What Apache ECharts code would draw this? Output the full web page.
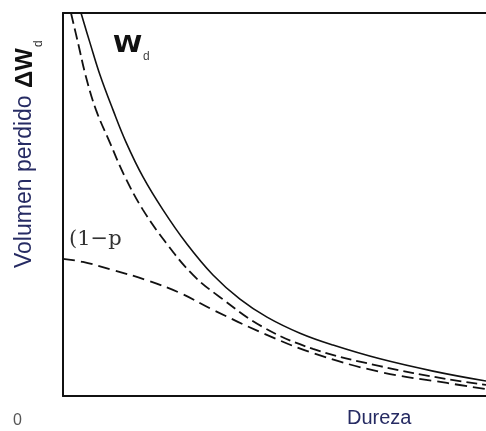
<!DOCTYPE html>
<html>
<head>
<meta charset="utf-8">
<script src="https://cdn.jsdelivr.net/npm/echarts@6/dist/echarts.min.js"></script>
<style>
html, body { margin: 0; padding: 0; background: #fff; }
#chart { width: 486px; height: 431px; }
</style>
</head>
<body>
<div id="chart"></div>
<script>
// curves, x = dureza (0-100), y = volumen perdido (0-100)
var wdTotal = [[4.26,100],[6.38,92.2],[8.75,83.8],[11.82,74.7],[14.89,66.3],[18.91,57.2],[23.64,48.6],[29.08,40.0],[35.46,31.6],[41.84,25.3],[48.23,20.6],[56.03,16.4],[63.83,13.3],[74.94,9.7],[87.47,6.5],[100,3.9]];
var wdUpper = [[1.89,100],[3.55,92.2],[5.44,83.3],[7.8,74.7],[11.11,66.1],[14.66,57.2],[18.91,48.6],[24.35,40.0],[30.73,31.6],[37.12,25.8],[47.28,18.0],[59.1,12.3],[74.94,7.8],[90.78,4.4],[100,2.9]];
var wdLower = [[0,35.8],[4.73,35.0],[11.82,32.9],[19.62,30.3],[27.66,26.9],[35.46,22.5],[47.28,16.4],[59.1,11.2],[74.94,6.3],[90.78,3.4],[100,1.8]];

var navy = '#262b63';
var chart = echarts.init(document.getElementById('chart'));

var option = {
    animation: false,
    grid: { left: 63, right: 0, top: 13, bottom: 35 },
    xAxis: [
        {
            type: 'value', min: 0, max: 100,
            axisLine: { show: true, lineStyle: { color: '#111', width: 2 } },
            axisTick: { show: false }, axisLabel: { show: false }, splitLine: { show: false }
        },
        {
            type: 'value', min: 0, max: 100, position: 'top',
            axisLine: { show: true, lineStyle: { color: '#111', width: 2 } },
            axisTick: { show: false }, axisLabel: { show: false }, splitLine: { show: false }
        }
    ],
    yAxis: {
        type: 'value', min: 0, max: 100,
        axisLine: { show: true, lineStyle: { color: '#111', width: 2 } },
        axisTick: { show: false }, axisLabel: { show: false }, splitLine: { show: false }
    },
    series: [
        {
            type: 'line', data: wdTotal, smooth: 0.4, symbol: 'none',
            lineStyle: { color: '#111', width: 1.6 }
        },
        {
            type: 'line', data: wdUpper, smooth: 0.4, symbol: 'none',
            lineStyle: { color: '#111', width: 1.8, type: [11, 5] }
        },
        {
            type: 'line', data: wdLower, smooth: 0.4, symbol: 'none',
            lineStyle: { color: '#111', width: 1.8, type: [12, 6] }
        }
    ],
    graphic: [
        {
            type: 'text', x: 25, y: 268, rotation: Math.PI / 2,
            style: { text: 'Volumen perdido', font: '23px "Liberation Sans", Arial', fill: navy, align: 'left', verticalAlign: 'middle' }
        },
        {
            type: 'text', x: 25, y: 88, rotation: Math.PI / 2,
            style: { text: 'ΔW', font: 'bold 24px "Liberation Sans", Arial', fill: '#111', align: 'left', verticalAlign: 'middle' }
        },
        {
            type: 'text', x: 39, y: 47, rotation: Math.PI / 2,
            style: { text: 'd', font: '12px "Liberation Sans", Arial', fill: '#333', align: 'left', verticalAlign: 'middle' }
        },
        {
            type: 'text', x: 113, y: 35, scaleX: 1.15,
            style: { text: 'W', font: 'bold 23px "DejaVu Sans", Arial', fill: '#111', align: 'left', verticalAlign: 'top' }
        },
        {
            type: 'text', x: 143, y: 51,
            style: { text: 'd', font: '12px "Liberation Sans", Arial', fill: '#444', align: 'left', verticalAlign: 'top' }
        },
        {
            type: 'text', x: 69, y: 229,
            style: { text: '(1−p', font: '21px "DejaVu Serif", serif', fill: '#333', align: 'left', verticalAlign: 'top' }
        },
        {
            type: 'text', x: 13, y: 413,
            style: { text: '0', font: '16px "Liberation Sans", Arial', fill: '#555', align: 'left', verticalAlign: 'top' }
        },
        {
            type: 'text', x: 347, y: 408,
            style: { text: 'Dureza', font: '20px "Liberation Sans", Arial', fill: navy, align: 'left', verticalAlign: 'top' }
        }
    ]
};
chart.setOption(option);
</script>
</body>
</html>
